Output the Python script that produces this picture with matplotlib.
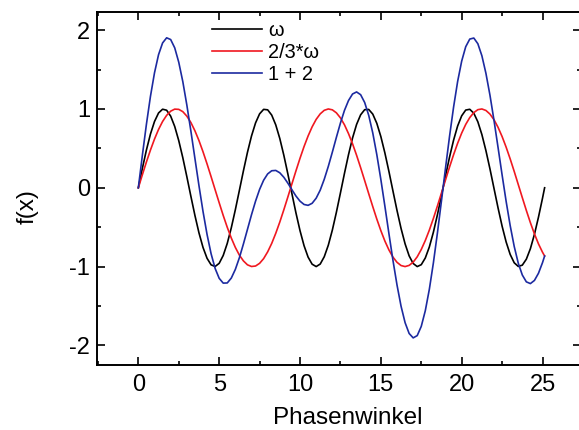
import matplotlib
matplotlib.use('Agg')
import matplotlib.pyplot as plt
from matplotlib.ticker import MultipleLocator

plt.rcParams['font.family'] = ['Liberation Sans', 'DejaVu Sans']
plt.rcParams['axes.unicode_minus'] = False

# Phasenwinkel (Schrittweite 0.25, letzter Punkt 8*pi)
x = [0.0, 0.25, 0.5, 0.75, 1.0, 1.25, 1.5, 1.75, 2.0, 2.25,
     2.5, 2.75, 3.0, 3.25, 3.5, 3.75, 4.0, 4.25, 4.5, 4.75,
     5.0, 5.25, 5.5, 5.75, 6.0, 6.25, 6.5, 6.75, 7.0, 7.25,
     7.5, 7.75, 8.0, 8.25, 8.5, 8.75, 9.0, 9.25, 9.5, 9.75,
     10.0, 10.25, 10.5, 10.75, 11.0, 11.25, 11.5, 11.75, 12.0, 12.25,
     12.5, 12.75, 13.0, 13.25, 13.5, 13.75, 14.0, 14.25, 14.5, 14.75,
     15.0, 15.25, 15.5, 15.75, 16.0, 16.25, 16.5, 16.75, 17.0, 17.25,
     17.5, 17.75, 18.0, 18.25, 18.5, 18.75, 19.0, 19.25, 19.5, 19.75,
     20.0, 20.25, 20.5, 20.75, 21.0, 21.25, 21.5, 21.75, 22.0, 22.25,
     22.5, 22.75, 23.0, 23.25, 23.5, 23.75, 24.0, 24.25, 24.5, 24.75,
     25.0, 25.13]

# omega
y_w = [0.0, 0.247, 0.479, 0.682, 0.841, 0.949, 0.997, 0.984, 0.909, 0.778,
       0.598, 0.382, 0.141, -0.108, -0.351, -0.572, -0.757, -0.895, -0.978, -0.999,
       -0.959, -0.859, -0.706, -0.508, -0.279, -0.033, 0.215, 0.450, 0.657, 0.823,
       0.938, 0.995, 0.989, 0.922, 0.798, 0.625, 0.412, 0.174, -0.075, -0.320,
       -0.544, -0.735, -0.880, -0.970, -1.000, -0.968, -0.875, -0.729, -0.537, -0.311,
       -0.066, 0.183, 0.420, 0.632, 0.804, 0.926, 0.991, 0.994, 0.935, 0.818,
       0.650, 0.442, 0.207, -0.042, -0.288, -0.516, -0.712, -0.864, -0.961, -1.000,
       -0.976, -0.891, -0.751, -0.564, -0.342, -0.099, 0.150, 0.390, 0.605, 0.784,
       0.913, 0.986, 0.996, 0.946, 0.837, 0.675, 0.471, 0.239, -0.009, -0.256,
       -0.487, -0.688, -0.846, -0.952, -0.998, -0.982, -0.906, -0.773, -0.591, -0.373,
       -0.132, 0.0]

# 2/3 omega
y_23 = [0.0, 0.166, 0.327, 0.479, 0.618, 0.740, 0.841, 0.919, 0.972, 0.998,
        0.995, 0.966, 0.909, 0.828, 0.723, 0.599, 0.457, 0.303, 0.141, -0.025,
        -0.190, -0.351, -0.502, -0.638, -0.757, -0.855, -0.928, -0.978, -0.999, -0.993,
        -0.959, -0.899, -0.813, -0.706, -0.578, -0.435, -0.279, -0.116, 0.050, 0.215,
        0.374, 0.523, 0.657, 0.773, 0.868, 0.938, 0.983, 1.000, 0.989, 0.951,
        0.887, 0.799, 0.687, 0.558, 0.412, 0.255, 0.091, -0.075, -0.239, -0.397,
        -0.544, -0.676, -0.789, -0.880, -0.946, -0.987, -1.000, -0.985, -0.944, -0.876,
        -0.783, -0.669, -0.537, -0.389, -0.231, -0.066, 0.100, 0.264, 0.420, 0.565,
        0.694, 0.804, 0.891, 0.954, 0.991, 1.000, 0.981, 0.935, 0.863, 0.767,
        0.650, 0.515, 0.366, 0.207, 0.041, -0.125, -0.288, -0.443, -0.585, -0.712,
        -0.818, -0.866]

# 1 + 2
y_sum = [0.0, 0.413, 0.806, 1.161, 1.459, 1.689, 1.838, 1.903, 1.881, 1.776,
         1.593, 1.348, 1.050, 0.720, 0.372, 0.027, -0.300, -0.592, -0.837, -1.024,
         -1.149, -1.210, -1.208, -1.146, -1.036, -0.888, -0.713, -0.528, -0.342, -0.170,
         -0.021, 0.096, 0.176, 0.216, 0.220, 0.190, 0.133, 0.058, -0.025, -0.105,
         -0.170, -0.212, -0.223, -0.197, -0.132, -0.030, 0.108, 0.271, 0.452, 0.640,
         0.821, 0.982, 1.107, 1.190, 1.216, 1.181, 1.082, 0.919, 0.696, 0.421,
         0.106, -0.234, -0.582, -0.922, -1.234, -1.503, -1.712, -1.849, -1.905, -1.876,
         -1.759, -1.560, -1.288, -0.953, -0.573, -0.165, 0.250, 0.654, 1.025, 1.349,
         1.607, 1.790, 1.887, 1.900, 1.828, 1.675, 1.452, 1.174, 0.854, 0.511,
         0.163, -0.173, -0.480, -0.745, -0.957, -1.107, -1.194, -1.216, -1.176, -1.085,
         -0.950, -0.866]

fig = plt.figure(figsize=(5.79, 4.30), dpi=100)
# rechte Achse liegt knapp ausserhalb des Bildes
ax = fig.add_axes([0.168, 0.151, 0.836, 0.821])

ax.plot(x, y_w, color='black', lw=1.2, label='ω')
ax.plot(x, y_23, color='#f01820', lw=1.2, label='2/3*ω')
ax.plot(x, y_sum, color='#1c2aa0', lw=1.2, label='1 + 2')

ax.set_xlim(-2.54, 27.4)
ax.set_ylim(-2.25, 2.23)
ax.xaxis.set_major_locator(MultipleLocator(5))
ax.xaxis.set_minor_locator(MultipleLocator(2.5))
ax.yaxis.set_major_locator(MultipleLocator(1))
ax.yaxis.set_minor_locator(MultipleLocator(0.5))
ax.tick_params(which='both', direction='in', top=True, right=True, width=1.2,
               labelsize=17)
ax.tick_params(axis='x', pad=6.5)
ax.tick_params(axis='y', pad=5)
ax.tick_params(which='major', length=6)
ax.tick_params(which='minor', length=3)
for s in ax.spines.values():
    s.set_linewidth(1.4)

ax.set_xlabel('Phasenwinkel', fontsize=17.5)
ax.set_ylabel('f(x)', fontsize=17.5)
ax.xaxis.set_label_coords(0.518, -0.119)
ax.yaxis.set_label_coords(-0.121, 0.45)

ax.legend(loc='upper left', bbox_to_anchor=(0.238, 0.975), frameon=False,
          fontsize=14.4, handlelength=2.5, handletextpad=0.3, labelspacing=0.15,
          borderpad=0, borderaxespad=0)

fig.savefig('out.png', dpi=100)
